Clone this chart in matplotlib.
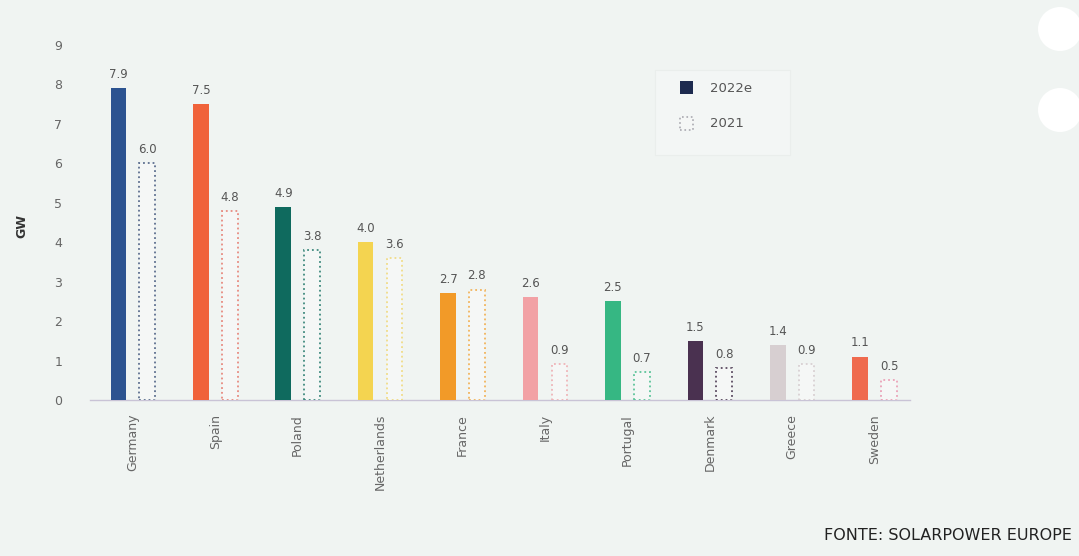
import numpy as np
import matplotlib.pyplot as plt
from matplotlib.patches import Circle, Rectangle

# solar capacity additions per country (GW)
countries = ['Germany', 'Spain', 'Poland', 'Netherlands', 'France',
             'Italy', 'Portugal', 'Denmark', 'Greece', 'Sweden']
gw_2022e = [7.9, 7.5, 4.9, 4.0, 2.7, 2.6, 2.5, 1.5, 1.4, 1.1]
gw_2021 = [6.0, 4.8, 3.8, 3.6, 2.8, 0.9, 0.7, 0.8, 0.9, 0.5]
labels_2022e = ['7.9', '7.5', '4.9', '4.0', '2.7', '2.6', '2.5', '1.5', '1.4', '1.1']
labels_2021 = ['6.0', '4.8', '3.8', '3.6', '2.8', '0.9', '0.7', '0.8', '0.9', '0.5']

colors = ['#2c5390', '#f0623a', '#0f6a5e', '#f4d450', '#f29a28',
          '#f2a1a5', '#36b783', '#4a3150', '#d7cfd1', '#ef6a4e']
edge_2021 = ['#5d6f8f', '#e88a80', '#3f8a7e', '#f0dc88', '#f2b45c',
             '#efb4b8', '#5cc49a', '#5a4a60', '#d8d0d2', '#eba2b8']

bg = '#f0f4f2'
plt.rcParams['font.family'] = ['DejaVu Sans']

fig = plt.figure(figsize=(10.79, 5.56), dpi=100, facecolor=bg)
ax = fig.add_axes([0.0834, 0.2806, 0.76, 0.6385], facecolor=bg)

x = np.arange(len(countries))
w = 0.19
off = 0.175

ax.bar(x - off, gw_2022e, width=w, color=colors, linewidth=0, zorder=3)
for i in range(len(countries)):
    ax.bar(x[i] + off, gw_2021[i], width=w, facecolor='#f5f7f6',
           edgecolor=edge_2021[i], linestyle=':', linewidth=1.3, zorder=3)

for i in range(len(countries)):
    ax.text(x[i] - off, gw_2022e[i] + 0.18, labels_2022e[i], ha='center',
            va='bottom', fontsize=8.5, color='#555555')
    ax.text(x[i] + off, gw_2021[i] + 0.18, labels_2021[i], ha='center',
            va='bottom', fontsize=8.5, color='#555555')

ax.set_xlim(-0.52, 9.43)
ax.set_ylim(0, 9)
ax.set_yticks(range(0, 10))
ax.set_xticks(x)
ax.set_xticklabels(countries, rotation=90, fontsize=9, color='#666666')
ax.tick_params(axis='both', length=0, labelsize=9, labelcolor='#666666')
ax.tick_params(axis='x', pad=10)
ax.tick_params(axis='y', pad=20)
for s in ['top', 'right', 'left']:
    ax.spines[s].set_visible(False)
ax.spines['bottom'].set_color('#c9c3d6')
ax.spines['bottom'].set_linewidth(1.0)
ax.set_ylabel('GW', fontsize=9, color='#333333', fontweight='bold')
ax.yaxis.set_label_coords(-0.075, 0.49)

# legend box
fig.patches.append(Rectangle((655 / 1079, 1 - 155 / 556), 135 / 1079, 85 / 556,
                             transform=fig.transFigure, facecolor='#f3f6f5',
                             edgecolor='#eaeeec', linewidth=0.8))
fig.patches.append(Rectangle((680 / 1079, 1 - 94 / 556), 13 / 1079, 13 / 556,
                             transform=fig.transFigure, facecolor='#1d2a4f',
                             edgecolor='none'))
fig.patches.append(Rectangle((680 / 1079, 1 - 130 / 556), 13 / 1079, 13 / 556,
                             transform=fig.transFigure, facecolor='#f5f7f6',
                             edgecolor='#a9a9b0', linestyle=':', linewidth=1.2))
fig.text(710 / 1079, 1 - 88 / 556, '2022e', fontsize=9.5, color='#555555', va='center')
fig.text(710 / 1079, 1 - 124 / 556, '2021', fontsize=9.5, color='#555555', va='center')

# white circles at the right edge (inches)
for cy in [29, 110]:
    fig.patches.append(Circle((10.60, (556 - cy) / 100), 0.22,
                              transform=fig.dpi_scale_trans,
                              facecolor='white', edgecolor='none'))

fig.text(1072 / 1079, 1 - 536 / 556, 'FONTE: SOLARPOWER EUROPE', ha='right',
         va='center', fontsize=11.5, color='#222222')

fig.savefig('out.png', dpi=100, facecolor=bg)
